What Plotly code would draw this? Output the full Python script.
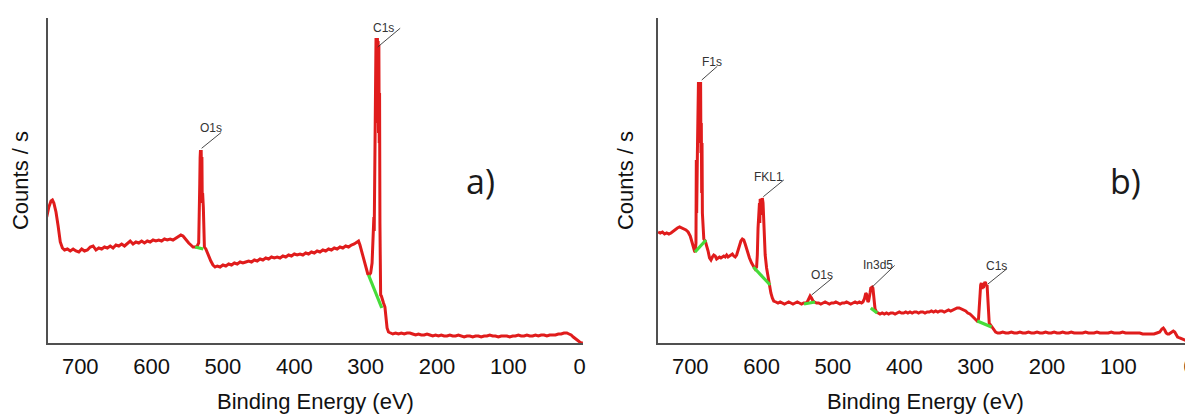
import plotly.graph_objects as go

# ---------------- data ----------------
# Panel a) survey spectrum: (binding energy eV, counts/s in arbitrary units)
a_spectrum = [
    (747,126),(744,136),(741,142),(739,143),(737,140),(734,131),(731,117),(728,101),(725,95),(722,93),
    (718,94),(714,92),(710,94),(706,92),(702,91),(698,94),(694,92),(690,93),(686,96),(682,97),
    (678,93),(674,95),(670,94),(666,96),(662,95),(658,97),(654,95),(650,98),(646,97),(642,99),
    (638,97),(634,100),(630,102),(626,99),(622,101),(618,100),(614,102),(610,100),(606,102),(602,101),
    (598,103),(594,102),(590,103),(586,102),(582,104),(578,103),(574,104),(570,103),(566,105),(562,107),
    (559,108),(556,107),(552,103),(548,100),(545,98),(542,96),(539,96),(536,97),(534,100),(533.5,146),
    (533,122),(532.5,160),(532,185),(531.5,193),(531,150),(530.5,193),(530,160),(529.5,186),(529,140),(528.5,150),
    (527.5,136),(527,110),(526,96),(524,94),
    (522,90),(520,88),(517,82),(514,78),(511,76),(508,77),(504,76),(500,78),(496,77),(492,79),
    (488,78),(484,80),(480,79),(476,81),(472,80),(468,81),(464,82),(460,81),(456,83),(452,82),
    (448,84),(444,83),(440,85),(436,84),(432,86),(428,85),(424,86),(420,85),(416,87),(412,86),
    (408,88),(404,87),(400,89),(396,88),(392,89),(388,88),(384,90),(380,89),(376,91),(372,90),
    (368,92),(364,91),(360,93),(356,92),(352,94),(348,93),(344,95),(340,94),(336,96),(332,95),
    (328,97),(324,96),(320,98),(316,99),(312,101),(310,102),(308,98),(305,90),(302,82),(299,74),
    (297,69),(295,68),(293,70),(291,80),(289.5,110),(288.5,126),(288,112),(287,200),(286,285),(285.5,305),
    (285,240),(284.5,304),(284,230),(283.5,305),(283,220),(282.5,302),(282,210),(281.5,298),(281,200),(280.5,250),
    (280,120),(279.5,60),(279,48),(278,47),
    (277,44),(275,40),(273,36),(271.5,25),(270,15),(268,11),(265,10),(262,9),(258,10),(254,9),
    (250,10),(246,9),(242,10),(238,10),(234,9),(230,8),(226,9),(222,8),(218,8),(214,9),
    (210,8),(206,7),(202,8),(198,7),(194,8),(190,7),(186,7),(182,8),(178,7),(174,7),
    (170,8),(166,7),(162,6),(158,7),(154,7),(150,6),(146,7),(142,7),(138,6),(134,7),
    (130,7),(126,8),(122,7),(118,7),(114,6),(110,7),(106,7),(102,7),(98,6),(94,7),
    (90,7),(86,8),(82,7),(78,7),(74,8),(70,7),(66,7),(62,8),(58,7),(54,8),
    (50,8),(46,7),(42,8),(38,8),(34,8),(30,9),(26,9),(22,10),(18,10),(15,9),
    (12,8),(9,6),(6,4),(3,2),(0,1),(-3,0),(-4.5,0),
]

# Panel b) survey spectrum
b_spectrum = [
    (745,111),(742,110),(739,111),(736,109),(733,110),(730,109),(727,110),(724,112),(721,113),(718,115),
    (715,116),(712,115),(709,114),(706,113),(703,111),(700,107),(698,102),(696,96),(694,92),(693,91),
    (692,100),(691.5,183),(691,130),(690,190),(689.5,230),(689,200),(688.5,261),(688,210),(687.5,261),(687,200),
    (686.5,259),(686,200),(685.5,261),(685,190),(684.5,220),(684,150),(683.5,200),(683,130),(682,108),(681,104),
    (679,102),(677,98),(675,92),(673,85),(671,83),
    (669,86),(667,88),(665,87),(663,84),(661,85),(659,86),(657,85),(655,86),(653,87),(651,86),
    (649,88),(647,86),(645,87),(643,88),(641,89),(639,87),(637,86),(635,88),(632,95),(629,102),
    (627,104),(625,103),(623,99),(621,94),(619,90),(617,85),(614,80),(611,76),(609,74),(607,76),
    (606,88),(605,115),(604,133),(603,140),(602.5,120),(602,144),(601.5,125),(601,143),(600.5,128),(600,145),
    (599.5,130),(599,145),(598,140),(597,125),
    (596,105),(595,88),(593,75),(591,65),(589,58),(587,50),(585,45),(583,42),(580,41),(577,40),
    (574,41),(571,40),(568,39),(565,40),(562,41),(559,40),(556,39),(553,40),(550,41),(547,40),
    (544,39),(541,40),(538,40),(536,41),(534,44),(532,47),(530,45),(528,42),(526,41),(523,40),
    (520,40),(517,39),(514,40),(511,41),(508,40),(505,39),(502,40),(499,40),(496,41),(493,40),
    (490,39),(487,40),(484,40),(481,41),(478,40),(475,39),(472,40),(469,41),(466,40),(463,41),
    (460,40),(458,41),(456,44),(455,48),(454,50),(453,49),(452,45),(451,41),(450,42),(449,45),
    (448,50),(447,55),(446,56),(445,56),(444,55),(443,47),(442,38),(441,34),(439,31),(437,30),
    (434,29),(431,30),(428,29),(425,30),(422,29),(419,30),(416,30),(413,29),(410,30),(407,31),
    (404,30),(401,30),(398,31),(395,30),(392,31),(389,30),(386,31),(383,31),(380,30),(377,31),
    (374,31),(371,30),(368,31),(365,31),(362,32),(359,31),(356,32),(353,31),(350,32),(347,32),
    (344,31),(341,32),(338,33),(335,32),(332,33),(329,34),(326,35),(323,35),(320,34),(317,33),
    (314,32),(311,30),(308,29),(305,27),(302,25),(300,23),(298,22),(296,24),(295,35),(294,52),
    (293,58),(292,60),(291,54),(290,58),(289,55),(288,59),(287,61),(286,60),(285,57),(284,58),
    (283,42),(282,22),(281,20),(279,18),(277,16),(275,13),(272,11),(269,10),(266,10),(262,11),
    (258,10),(254,10),(250,11),(246,10),(242,10),(238,11),(234,10),(230,10),(226,11),(222,10),
    (218,10),(214,11),(210,10),(206,10),(202,11),(198,10),(194,10),(190,11),(186,10),(182,10),
    (178,11),(174,10),(170,10),(166,11),(162,10),(158,10),(154,10),(150,10),(146,11),(142,10),
    (138,10),(134,10),(130,11),(126,10),(122,10),(118,10),(114,10),(110,11),(106,10),(102,10),
    (98,10),(94,11),(90,10),(86,10),(82,10),(78,10),(74,10),(70,10),(66,9),(62,9),
    (58,9),(54,9),(50,9),(46,10),(42,11),(39,14),(37,15),(35,13),(33,10),(31,9),
    (29,9),(27,10),(25,11),(23,12),(21,11),(19,8),(17,6),(14,5),(11,4),(8,3),
    (5,2),(2,1),(0,0.5),(-3,0),(-4,0),
]

# Linear backgrounds under the fitted peaks: (start eV, start counts, end eV, end counts)
a_backgrounds = [(539, 96, 527.6, 94), (296, 68, 277.4, 35)]
b_backgrounds = [(693.3, 91, 677.9, 103), (611.6, 76, 588, 58), (540.6, 39, 525, 41),
                 (447, 35, 438, 30), (297.8, 22, 277.8, 16)]

# Peak labels: (text, eV, counts at peak top)
a_labels = [("O1s", 531, 193), ("C1s", 284, 305)]
b_labels = [("F1s", 686, 261), ("FKL1", 599, 145), ("O1s", 532, 47), ("In3d5", 445, 56), ("C1s", 287, 61)]

tick_values = [700, 600, 500, 400, 300, 200, 100, 0]
tick_labels = ["700", "600", "500", "400", "300", "200", "100", "0"]
panel_names = ["a)", "b)"]
x_title = "Binding Energy (eV)"
y_title = "Counts / s"

# ---------------- styling / layout ----------------
# The page body has an 8 px margin, so the figure is drawn 8 px smaller and
# every page-pixel position below is converted with OFF.
OFF = 8
W, H = 1193 - OFF, 416 - OFF
RED = "#e01c1c"
GREEN = "#46dc3a"
AXIS_COL = "#505050"
FONT = "Liberation Sans, Arial, sans-serif"

def fx(px):
    return (px - OFF) / W

def fy(py):
    return (H - (py - OFF)) / H

# label leader-line geometry (pixels): head shift (right, up), tail offset (ax, ay), text offset from head (right, up)
a_label_geom = [((0.8, 1.7), (21, -17), (9, 20.6)),
                ((0.6, -9.0), (24, -20), (5.5, 19.5))]
b_label_geom = [((1.5, 2.0), (17, -15), (10, 18.3)),
                ((1.0, 1.3), (22, -18), (5, 20)),
                ((1.5, 1.0), (22, -18), (10.3, 20)),
                ((0.0, 0.0), (24, -23), (6, 22)),
                ((3.0, -2.0), (20.5, -16.5), (9, 18))]

ydom = [fy(343), fy(18)]
xdom_a = [fx(48), fx(583)]
xdom_b = [fx(658), 1.0]

fig = go.Figure()

def add_panel(spec, bgs, xa, ya):
    ev = [p[0] for p in spec]
    cnt = [p[1] for p in spec]
    fig.add_trace(go.Scatter(x=ev, y=cnt, mode="lines", line=dict(color=RED, width=3),
                             xaxis=xa, yaxis=ya, showlegend=False, hoverinfo="skip"))
    for (e0, c0, e1, c1) in bgs:
        fig.add_trace(go.Scatter(x=[e0, e1], y=[c0, c1], mode="lines",
                                 line=dict(color=GREEN, width=3.2),
                                 xaxis=xa, yaxis=ya, showlegend=False, hoverinfo="skip"))

add_panel(a_spectrum, a_backgrounds, "x", "y")
add_panel(b_spectrum, b_backgrounds, "x2", "y2")

annotations = []
def add_labels(labels, geom, xref, yref):
    for (txt, e, c), ((hx, hy), (ax, ay), (tx, ty)) in zip(labels, geom):
        annotations.append(dict(x=e, y=c, xref=xref, yref=yref, text="", showarrow=True,
                                arrowhead=0, arrowwidth=0.9, arrowcolor="#333333",
                                ax=ax, ay=ay, xshift=hx, yshift=hy))
        annotations.append(dict(x=e, y=c, xref=xref, yref=yref, text=txt, showarrow=False,
                                xshift=hx + tx, yshift=hy + ty, xanchor="center", yanchor="middle",
                                font=dict(family=FONT, size=12, color="#333333")))

add_labels(a_labels, a_label_geom, "x", "y")
add_labels(b_labels, b_label_geom, "x2", "y2")

for name, px in zip(panel_names, [480, 1125]):
    annotations.append(dict(x=fx(px), y=fy(181), xref="paper", yref="paper", text=name,
                            showarrow=False, xanchor="center", yanchor="middle",
                            font=dict(family="Open Sans, sans-serif", size=34, color="#1a1a1a")))

xaxis_common = dict(range=[745.2, -4.6], showline=True, linecolor=AXIS_COL, linewidth=1.6,
                    showgrid=False, zeroline=False, ticks="", tickvals=tick_values, ticktext=tick_labels,
                    tickfont=dict(family=FONT, size=22, color="#111111"), ticklabelstandoff=3,
                    ticklabeloverflow="allow", automargin=False,
                    title=dict(text=x_title, font=dict(family=FONT, size=22, color="#111111"), standoff=15))
yaxis_common = dict(range=[0, 325], showline=True, linecolor=AXIS_COL, linewidth=1.6,
                    showgrid=False, zeroline=False, ticks="", showticklabels=False, automargin=False,
                    title=dict(text=y_title, font=dict(family=FONT, size=22, color="#111111"), standoff=17))

fig.update_layout(
    width=W, height=H, margin=dict(l=0, r=0, t=0, b=0),
    paper_bgcolor="white", plot_bgcolor="white", showlegend=False,
    xaxis=dict(domain=xdom_a, anchor="y", **xaxis_common),
    yaxis=dict(domain=ydom, anchor="x", **yaxis_common),
    xaxis2=dict(domain=xdom_b, anchor="y2", **xaxis_common),
    yaxis2=dict(domain=ydom, anchor="x2", **yaxis_common),
    annotations=annotations,
)

fig.write_html("out.html")
